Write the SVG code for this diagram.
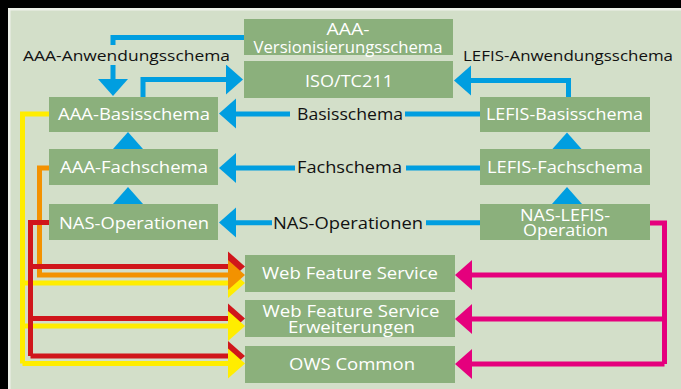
<svg xmlns="http://www.w3.org/2000/svg" xmlns:xlink="http://www.w3.org/1999/xlink" width="681" height="389" viewBox="0 0 681 389">
<style>
.node rect{fill:#8bb07c}
.node text{fill:#ffffff;font-family:"Open Sans","Noto Sans",sans-serif;font-size:17px;text-anchor:middle}
.lbl{fill:#111111;font-family:"Open Sans","Noto Sans",sans-serif;font-size:17px}
.lbl.small{font-size:15px}
.bg{fill:#d3dfc9}
.ln{fill:none;stroke-width:5;stroke-linejoin:miter;stroke-linecap:butt}
.blue{stroke:#009ee0}
.yel{stroke:#ffed00}
.ora{stroke:#f39200}
.red{stroke:#d0161b}
.mag{stroke:#e5007d}
.hb{fill:#009ee0}
.hy{fill:#ffed00}
.ho{fill:#f39200}
.hr{fill:#d0161b}
.hm{fill:#e5007d}
</style>
<defs>
<path id="ah" d="M0,0 L-17,-15 L-17,15 Z"/>
</defs>
<rect x="0" y="0" width="681" height="389" fill="#000000"/>
<rect x="8" y="8" width="673" height="381" fill="#eef1ea"/>
<rect x="10.5" y="10.5" width="671" height="379" fill="#d3dfc9"/>

<g id="connectors">
<path class="ln blue" d="M244,37.5 H113 V80"/>
<use xlink:href="#ah" class="hb" transform="translate(113,96) rotate(90)"/>
<path class="ln blue" d="M143,97 V79.5 H228"/>
<use xlink:href="#ah" class="hb" transform="translate(243,79.5)"/>
<path class="ln blue" d="M568.5,97 V80.5 H470"/>
<use xlink:href="#ah" class="hb" transform="translate(454,80.5) rotate(180)"/>
<path class="ln blue" d="M480,114 H234"/>
<use xlink:href="#ah" class="hb" transform="translate(219,113.5) rotate(180)"/>
<path class="ln blue" d="M480,168 H234"/>
<use xlink:href="#ah" class="hb" transform="translate(219,168) rotate(180)"/>
<path class="ln blue" d="M480,222.8 H234"/>
<use xlink:href="#ah" class="hb" transform="translate(219,222.5) rotate(180)"/>
<use xlink:href="#ah" class="hb" transform="translate(128,132) rotate(-90)"/>
<use xlink:href="#ah" class="hb" transform="translate(128,187) rotate(-90)"/>
<use xlink:href="#ah" class="hb" transform="translate(567,132.5) rotate(-90)"/>
<use xlink:href="#ah" class="hb" transform="translate(567,187) rotate(-90)"/>

<path class="ln yel" d="M49,114 H22.5 V363.5 M22.5,283 H230 M22.5,326 H230 M22.5,363.5 H230"/>
<path class="ln ora" d="M49,168 H39.5 V275 H230"/>
<path class="ln red" d="M49,222.5 H30.5 V356 M30.5,266.5 H230 M30.5,318.5 H230 M30.5,356 H230"/>
<use xlink:href="#ah" class="hr" transform="translate(245,266.5)"/>
<use xlink:href="#ah" class="hr" transform="translate(245,318.5)"/>
<use xlink:href="#ah" class="hr" transform="translate(245,356)"/>
<use xlink:href="#ah" class="hy" transform="translate(245,283)"/>
<use xlink:href="#ah" class="hy" transform="translate(245,326)"/>
<use xlink:href="#ah" class="hy" transform="translate(245,363.5)"/>
<use xlink:href="#ah" class="ho" transform="translate(245,275)"/>

<path class="ln mag" d="M650,223 H664.5 V364 M664.5,275 H470 M664.5,319 H470 M664.5,364 H470"/>
<use xlink:href="#ah" class="hm" transform="translate(455,275) rotate(180)"/>
<use xlink:href="#ah" class="hm" transform="translate(455,319) rotate(180)"/>
<use xlink:href="#ah" class="hm" transform="translate(455,364) rotate(180)"/>

<rect class="bg" x="20" y="45" width="214" height="20"/>
<text class="lbl small" x="23" y="60.5" textLength="207" lengthAdjust="spacingAndGlyphs">AAA-Anwendungsschema</text>
<text class="lbl small" x="463" y="61" textLength="210" lengthAdjust="spacingAndGlyphs">LEFIS-Anwendungsschema</text>
<rect class="bg" x="290" y="104" width="115" height="20"/>
<text class="lbl" x="297" y="120" textLength="106" lengthAdjust="spacingAndGlyphs">Basisschema</text>
<rect class="bg" x="295" y="158" width="111" height="20"/>
<text class="lbl" x="297" y="173.3" textLength="105" lengthAdjust="spacingAndGlyphs">Fachschema</text>
<rect class="bg" x="272" y="212" width="154" height="20"/>
<text class="lbl" x="273" y="229.3" textLength="150" lengthAdjust="spacingAndGlyphs">NAS-Operationen</text>
</g>

<g id="n-version" class="node">
<rect x="244" y="19" width="209" height="36"/>
<text x="348" y="34.5" textLength="43" lengthAdjust="spacingAndGlyphs">AAA-</text>
<text x="348" y="52.5" textLength="189" lengthAdjust="spacingAndGlyphs">Versionisierungsschema</text>
</g>
<g id="n-iso" class="node">
<rect x="244" y="61" width="209" height="37"/>
<text x="349" y="87.3" textLength="88" lengthAdjust="spacingAndGlyphs">ISO/TC211</text>
</g>
<g id="n-aaa-basis" class="node">
<rect x="49" y="97" width="169" height="35"/>
<text x="134" y="120" textLength="152" lengthAdjust="spacingAndGlyphs">AAA-Basisschema</text>
</g>
<g id="n-lefis-basis" class="node">
<rect x="480" y="97" width="170" height="35"/>
<text x="564.5" y="120" textLength="157" lengthAdjust="spacingAndGlyphs">LEFIS-Basisschema</text>
</g>
<g id="n-aaa-fach" class="node">
<rect x="49" y="149" width="169" height="36"/>
<text x="134" y="173.3" textLength="148" lengthAdjust="spacingAndGlyphs">AAA-Fachschema</text>
</g>
<g id="n-lefis-fach" class="node">
<rect x="480" y="149" width="170" height="36"/>
<text x="565" y="173.3" textLength="156" lengthAdjust="spacingAndGlyphs">LEFIS-Fachschema</text>
</g>
<g id="n-nas-op" class="node">
<rect x="49" y="204" width="169" height="36"/>
<text x="134" y="229.3" textLength="150" lengthAdjust="spacingAndGlyphs">NAS-Operationen</text>
</g>
<g id="n-nas-lefis" class="node">
<rect x="480" y="204" width="170" height="36"/>
<text x="565" y="220.7" textLength="90" lengthAdjust="spacingAndGlyphs">NAS-LEFIS-</text>
<text x="565.5" y="236" textLength="85" lengthAdjust="spacingAndGlyphs">Operation</text>
</g>
<g id="n-wfs" class="node">
<rect x="245" y="255" width="210" height="37"/>
<text x="350" y="279.3" textLength="176" lengthAdjust="spacingAndGlyphs">Web Feature Service</text>
</g>
<g id="n-wfs-ext" class="node">
<rect x="245" y="300" width="210" height="37"/>
<text x="351" y="316.7" textLength="177" lengthAdjust="spacingAndGlyphs">Web Feature Service</text>
<text x="351.5" y="332.7" textLength="127" lengthAdjust="spacingAndGlyphs">Erweiterungen</text>
</g>
<g id="n-ows" class="node">
<rect x="245" y="346" width="210" height="37"/>
<text x="352" y="370" textLength="126" lengthAdjust="spacingAndGlyphs">OWS Common</text>
</g>
</svg>
